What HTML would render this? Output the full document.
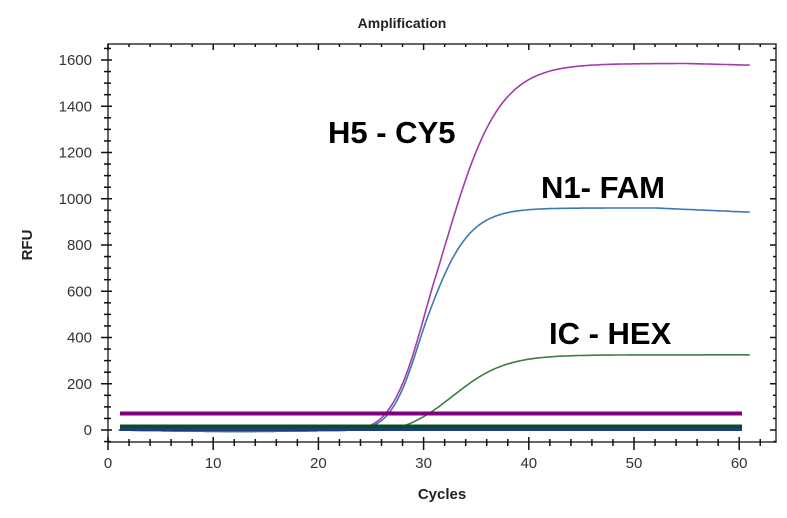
<!DOCTYPE html>
<html><head><meta charset="utf-8"><style>
body{margin:0;background:#fff}
svg{font-family:"Liberation Sans",sans-serif}
</style></head><body>
<svg id="s" width="787" height="513" xmlns="http://www.w3.org/2000/svg">
<rect width="787" height="513" fill="#fff"/>
<text x="402" y="28" font-size="14" font-weight="bold" text-anchor="middle" fill="#222">Amplification</text>
<text x="442" y="499" font-size="15" font-weight="bold" text-anchor="middle" fill="#222">Cycles</text>
<text transform="translate(32,245) rotate(-90)" font-size="15" font-weight="bold" text-anchor="middle" fill="#222">RFU</text>
<rect x="108" y="44" width="668" height="398" fill="none" stroke="#333" stroke-width="1.5"/>
<g id="ticks" stroke="#111" stroke-width="1.5"></g>
<g id="labels" font-size="15" fill="#333"></g>
<g id="curves" fill="none"></g>
<line x1="120" y1="413.5" x2="742" y2="413.5" stroke="#800080" stroke-width="4"/>
<line x1="120" y1="426.5" x2="742" y2="426.5" stroke="#0b4d1f" stroke-width="4"/>
<line x1="120" y1="429.5" x2="742" y2="429.5" stroke="#1a3f7a" stroke-width="3"/>
<g font-size="31" font-weight="bold" fill="#000">
<text x="328" y="143">H5 - CY5</text>
<text x="541" y="198">N1- FAM</text>
<text x="549" y="344">IC - HEX</text>
</g>
</svg>
<script>
var X=c=>108+c*10.52, Y=v=>430-v*0.23125, ns="http://www.w3.org/2000/svg";
var t=document.getElementById('ticks'),l=document.getElementById('labels'),cv=document.getElementById('curves');
function ln(g,a,b,c,d){var e=document.createElementNS(ns,'line');e.setAttribute('x1',a);e.setAttribute('y1',b);e.setAttribute('x2',c);e.setAttribute('y2',d);g.appendChild(e);}
function tx(s,x,y,a){var e=document.createElementNS(ns,'text');e.setAttribute('x',x);e.setAttribute('y',y);e.setAttribute('text-anchor',a);e.textContent=s;l.appendChild(e);}
for(var c=0;c<=62;c+=2){var x=X(c),m=c%10==0;ln(t,x,442-(m?5:3),x,442+(m?8:4));ln(t,x,44,x,44+(m?6:3));if(m)tx(c,x,468,'middle');}
for(var v=-50;v<=1650;v+=50){var y=Y(v);if(y<44||y>442)continue;var m=v%200==0;ln(t,108-(m?7:4),y,108+(m?4:3),y);ln(t,776-(m?6:3),y,776,y);if(m)tx(v,92,y+5,'end');}
function path(f,col){var d='';for(var c=1;c<=61;c+=0.25){d+=(c==1?'M':'L')+X(c).toFixed(1)+','+Y(f(c)).toFixed(1);}var e=document.createElementNS(ns,'path');e.setAttribute('d',d);e.setAttribute('stroke',col);e.setAttribute('stroke-width','1.6');cv.appendChild(e);}
function lg(c,m,s){return 1/(1+Math.exp(-(c-m)/s));}
function gate(c,a,b){if(c<=a)return 0;if(c>=b)return 1;var u=(c-a)/(b-a);return u*u*(3-2*u);}
function base(c){return c<24?-6*Math.sin((c-1)/23*Math.PI):0;}
function sh(c,m,s,c0){var a=lg(c0,m,s);var v=(lg(c,m,s)-a)/(1-a);return v>0?v:0;}
path(c=>1585*lg(c,32.0,2.6)*gate(c,22.5,31)+base(c)-(c>55?(c-55)*1.2:0),'#a23ca8');
path(c=>960*lg(c,30.3,2.0)*gate(c,22.5,30.5)+base(c)-(c>52?(c-52)*2:0),'#3d78b5');
path(c=>325*sh(c,32.8,2.5,26.8)+base(c),'#3e7d45');
</script>
</body></html>
